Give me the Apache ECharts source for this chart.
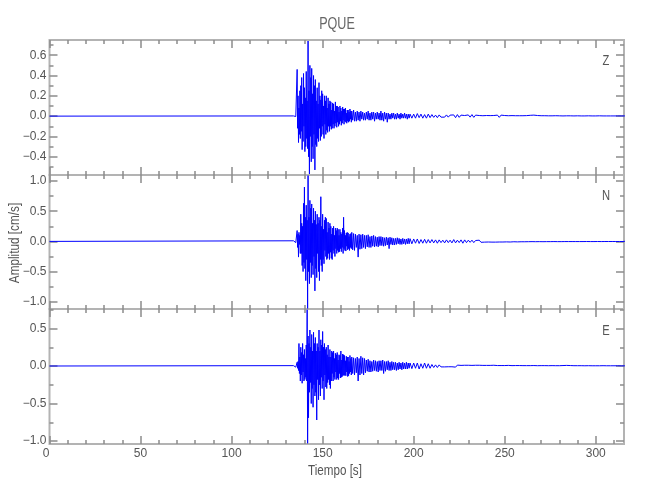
<!DOCTYPE html>
<html><head><meta charset="utf-8">
<script src="https://cdn.jsdelivr.net/npm/echarts@6/dist/echarts.min.js"></script>
<style>html,body{margin:0;padding:0;background:#fff}#c{width:650px;height:500px}</style>
</head><body><div id="c"></div>
<script>
// ---------- data ----------
const stationName = 'PQUE';
const componentNames = ['Z', 'N', 'E'];
const xLabelText = 'Tiempo [s]';
const yLabelText = 'Amplitud [cm/s]';

const xMajorTicks = [0, 50, 100, 150, 200, 250, 300];
const xMinorTicks = [10, 20, 30, 40, 60, 70, 80, 90, 110, 120, 130, 140, 160, 170, 180, 190,
  210, 220, 230, 240, 260, 270, 280, 290, 310];

const zMajorTicks = [0.6, 0.4, 0.2, 0.0, -0.2, -0.4];
const zMinorTicks = [0.7, 0.5, 0.3, 0.1, -0.1, -0.3, -0.5];
const nMajorTicks = [1.0, 0.5, 0.0, -0.5, -1.0];
const nMinorTicks = [0.75, 0.25, -0.25, -0.75];
const eMajorTicks = [0.5, 0.0, -0.5, -1.0];
const eMinorTicks = [0.75, 0.25, -0.25, -0.75];

// sampling of the hand-read traces
const timeStart = 0;      // s, quiet until the onset
const denseStart = 134;   // s, strong motion, every 0.25 s
const denseStep = 0.25;
const midStart = 166;     // s, coda, every 0.5 s
const midStep = 0.5;
const tailStart = 198;    // s, late coda, every 1 s
const tailStep = 1;

// ---- Z ----
const zDense = [
  0.002,-0.003,0.003,-0.002,0.002,-0.004,0.003,-0.002,
  0.46,-0.12,0.20,-0.26,0.08,-0.18,0.25,-0.22,
  0.30,-0.15,0.38,-0.33,0.12,-0.25,0.42,-0.10,
  0.28,-0.35,0.18,-0.30,0.44,-0.22,0.15,-0.32,
  0.74,-0.40,0.25,-0.57,0.50,-0.20,0.38,-0.45,
  0.47,-0.30,0.22,-0.42,0.40,-0.18,0.30,-0.53,
  0.36,-0.28,0.15,-0.30,0.28,-0.22,0.12,-0.25,
  0.33,-0.12,0.20,-0.24,0.16,-0.20,0.25,-0.10,
  0.22,-0.18,0.10,-0.22,0.20,-0.08,0.15,-0.18,
  0.20,-0.14,0.08,-0.16,0.18,-0.10,0.12,-0.15,
  0.15,-0.10,0.14,-0.13,0.06,-0.12,0.13,-0.08,
  0.12,-0.12,0.05,-0.10,0.14,-0.07,0.10,-0.11,
  0.10,-0.06,0.09,-0.10,0.04,-0.08,0.10,-0.05,
  0.08,-0.09,0.05,-0.07,0.09,-0.04,0.07,-0.08,
  0.07,-0.05,0.08,-0.06,0.03,-0.07,0.06,-0.05,
  0.06,-0.06,0.04,-0.05,0.07,-0.03,0.05,-0.06];
const zMid = [
  0.05,-0.04,0.06,-0.05,0.04,-0.05,0.05,-0.04,
  0.04,-0.05,0.05,-0.03,0.04,-0.04,0.03,-0.04,
  0.04,-0.03,0.05,-0.04,0.03,-0.04,0.04,-0.03,
  0.04,-0.05,0.03,-0.03,0.04,-0.03,0.03,-0.04,
  0.05,-0.04,0.03,-0.05,0.04,-0.03,0.03,-0.06,
  0.03,-0.03,0.02,-0.03,0.03,-0.02,0.03,-0.03,
  0.02,-0.03,0.03,-0.02,0.02,-0.03,0.03,-0.02,
  0.02,-0.02,0.03,-0.02,0.02,-0.03,0.02,-0.02];
const zTail = [0.02,-0.02,
  0.02,-0.02,0.025,-0.015,0.02,-0.02,0.015,-0.02,0.02,-0.015,
  0.015,-0.012,0.01,-0.015,0.012,-0.01,0.008,-0.01,0.012,-0.01,
  0.01,-0.008,0.012,-0.015,0.015,-0.012,0.01,-0.008,0.006,-0.008,
  0.012,-0.01,0.015,-0.012,0.01,-0.008,0.006,-0.005,0.004,-0.005,
  0.006,-0.005,0.005,-0.004,0.006,-0.008,0.01,-0.012,0.01,-0.008,
  0.006,-0.005,0.004,-0.004,0.005,-0.004,0.004,-0.005,0.004,-0.003,
  0.004,-0.004,0.005,-0.006,0.008,-0.01,0.01,-0.008,0.006,-0.005,
  0.004,-0.003,0.004,-0.003,0.003,-0.004,0.003,-0.003,0.004,-0.003,
  0.003,-0.003,0.002,-0.003,0.003,-0.002,0.003,-0.002,0.002,-0.003,
  0.003,-0.002,0.002,-0.003,0.002,-0.002,0.003,-0.002,0.002,-0.002,
  0.002,-0.002,0.003,-0.002,0.002,-0.002,0.002,-0.003,0.002,-0.002,
  0.002,-0.002,0.002,-0.002,0.002,-0.001,0.002];

// ---- N ----
const nDense = [
  0.01,-0.02,0.02,-0.01,0.03,-0.02,0.01,-0.02,
  0.18,-0.10,0.12,-0.26,0.15,-0.05,0.10,-0.20,
  0.45,-0.20,0.30,-0.40,0.25,-0.50,0.63,-0.35,
  0.90,-0.45,0.40,-0.65,0.60,-0.30,0.35,-1.11,
  1.09,-0.50,0.40,-0.70,0.68,-0.35,0.55,-0.60,
  0.62,-0.40,0.30,-0.55,0.55,-0.25,0.35,-0.82,
  0.50,-0.45,0.28,-0.60,0.45,-0.20,0.30,-0.50,
  0.40,-0.65,0.35,-0.30,0.74,-0.40,0.25,-0.50,
  0.45,-0.30,0.20,-0.37,0.35,-0.15,0.40,-0.25,
  0.38,-0.30,0.15,-0.28,0.32,-0.20,0.22,-0.30,
  0.30,-0.18,0.25,-0.28,0.12,-0.30,0.22,-0.15,
  0.25,-0.20,0.10,-0.25,0.22,-0.12,0.18,-0.20,
  0.22,-0.15,0.20,-0.18,0.10,-0.17,0.20,-0.12,
  0.15,-0.17,0.12,-0.10,0.22,-0.20,0.40,-0.12,
  0.18,-0.15,0.10,-0.16,0.14,-0.08,0.15,-0.14,
  0.14,-0.12,0.08,-0.15,0.12,-0.10,0.13,-0.12];
const nMid = [
  0.15,-0.14,0.13,-0.15,0.12,-0.10,0.10,-0.26,
  0.12,-0.13,0.11,-0.12,0.12,-0.10,0.10,-0.12,
  0.10,-0.09,0.11,-0.10,0.08,-0.10,0.09,-0.08,
  0.10,-0.09,0.08,-0.08,0.07,-0.09,0.08,-0.07,
  0.08,-0.07,0.07,-0.08,0.06,-0.07,0.07,-0.06,
  0.06,-0.12,0.07,-0.05,0.06,-0.06,0.05,-0.06,
  0.05,-0.05,0.06,-0.04,0.05,-0.05,0.04,-0.05,
  0.05,-0.04,0.04,-0.05,0.04,-0.04,0.05,-0.04];
const nTail = [0.045,-0.04,
  0.04,-0.03,0.04,-0.035,0.03,-0.03,0.035,-0.03,0.03,-0.025,
  0.03,-0.025,0.025,-0.03,0.025,-0.02,0.02,-0.025,0.025,-0.02,
  0.02,-0.025,0.03,-0.025,0.02,-0.02,0.025,-0.03,0.025,-0.02,
  0.02,-0.015,0.02,-0.02,0.015,-0.015,0.02,-0.015,0.015,-0.012,
  0.012,-0.01,0.015,-0.012,0.01,-0.012,0.01,-0.01,0.008,-0.01,
  0.01,-0.008,0.008,-0.01,0.008,-0.006,0.006,-0.008,0.006,-0.006,
  0.005,-0.006,0.006,-0.005,0.005,-0.004,0.005,-0.005,0.004,-0.004,
  0.004,-0.005,0.004,-0.004,0.005,-0.004,0.004,-0.003,0.004,-0.004,
  0.003,-0.004,0.003,-0.003,0.004,-0.003,0.003,-0.003,0.003,-0.003,
  0.003,-0.003,0.002,-0.003,0.003,-0.002,0.003,-0.003,0.002,-0.003,
  0.003,-0.002,0.002,-0.003,0.002,-0.002,0.003,-0.002,0.002,-0.002,
  0.002,-0.002,0.002,-0.002,0.002,-0.002,0.002];

// ---- E ----
const eDense = [
  0.005,-0.008,0.01,-0.01,0.02,-0.015,0.01,-0.02,
  0.05,-0.03,0.06,-0.06,0.30,-0.10,0.12,-0.20,
  0.25,-0.12,0.18,-0.23,0.30,-0.08,0.15,-0.20,
  0.22,-0.18,0.10,-0.15,0.28,-0.20,0.75,-1.03,
  0.40,-0.69,0.30,-0.35,0.48,-0.22,0.25,-0.50,
  0.42,-0.30,0.20,-0.55,0.45,-0.25,0.30,-0.40,
  0.38,-0.35,0.20,-0.72,0.30,-0.18,0.25,-0.45,
  0.48,-0.25,0.20,-0.40,0.35,-0.15,0.28,-0.30,
  0.46,-0.20,0.25,-0.45,0.30,-0.12,0.22,-0.28,
  0.25,-0.30,0.15,-0.22,0.28,-0.18,0.12,-0.25,
  0.22,-0.30,0.12,-0.20,0.20,-0.10,0.18,-0.20,
  0.20,-0.15,0.10,-0.18,0.17,-0.08,0.15,-0.18,
  0.18,-0.16,0.08,-0.18,0.15,-0.10,0.14,-0.16,
  0.20,-0.15,0.08,-0.14,0.16,-0.12,0.15,-0.13,
  0.14,-0.12,0.07,-0.13,0.13,-0.08,0.12,-0.14,
  0.12,-0.13,0.06,-0.10,0.14,-0.08,0.10,-0.12];
const eMid = [
  0.12,-0.10,0.11,-0.12,0.10,-0.09,0.12,-0.20,
  0.10,-0.12,0.13,-0.10,0.11,-0.12,0.10,-0.09,
  0.08,-0.07,0.09,-0.08,0.07,-0.08,0.06,-0.07,
  0.08,-0.06,0.07,-0.07,0.06,-0.08,0.07,-0.06,
  0.07,-0.06,0.08,-0.10,0.06,-0.07,0.06,-0.05,
  0.07,-0.06,0.05,-0.06,0.06,-0.05,0.05,-0.05,
  0.05,-0.06,0.04,-0.05,0.05,-0.04,0.04,-0.05,
  0.05,-0.04,0.04,-0.04,0.05,-0.04,0.04,-0.03];
const eTail = [0.04,-0.035,
  0.04,-0.03,0.04,-0.04,0.03,-0.03,0.04,-0.03,0.03,-0.03,
  0.02,-0.02,0.015,-0.02,0.015,-0.012,0.01,-0.012,0.01,-0.01,
  0.012,-0.01,0.01,-0.015,0.012,-0.01,0.008,-0.01,0.01,-0.008,
  0.01,-0.012,0.008,-0.01,0.01,-0.008,0.01,-0.012,0.008,-0.008,
  0.008,-0.006,0.008,-0.01,0.01,-0.008,0.006,-0.008,0.006,-0.005,
  0.006,-0.008,0.008,-0.006,0.005,-0.006,0.006,-0.005,0.006,-0.005,
  0.005,-0.006,0.005,-0.004,0.005,-0.005,0.006,-0.005,0.004,-0.005,
  0.005,-0.004,0.005,-0.005,0.004,-0.004,0.005,-0.004,0.004,-0.004,
  0.004,-0.005,0.006,-0.006,0.008,-0.008,0.006,-0.005,0.004,-0.004,
  0.004,-0.003,0.004,-0.004,0.003,-0.004,0.004,-0.003,0.003,-0.003,
  0.003,-0.004,0.003,-0.003,0.004,-0.003,0.003,-0.003,0.003,-0.003,
  0.003,-0.002,0.003,-0.003,0.002,-0.002,0.002];

// ---------- build ----------
function trace(dense, mid, tail) {
  const pts = [[timeStart, 0]];
  dense.forEach((v, i) => pts.push([denseStart + i * denseStep, v]));
  mid.forEach((v, i) => pts.push([midStart + i * midStep, v]));
  tail.forEach((v, i) => pts.push([tailStart + i * tailStep, v]));
  return pts;
}

const FONT = '"Liberation Sans",Arial,sans-serif';
const AXIS_GRAY = '#b3b3b3';
const TICK_COLOR = '#8c8c8c';
const LABEL_COLOR = '#555';
const X_MIN = 0, X_MAX = 315.5;
const PLOT_LEFT = 49.5, PLOT_WIDTH = 574.5;

const panels = [
  { dense: zDense, mid: zMid, tail: zTail, min: -0.58, max: 0.75, major: zMajorTicks, minor: zMinorTicks, top: 40, height: 135 },
  { dense: nDense, mid: nMid, tail: nTail, min: -1.12, max: 1.10, major: nMajorTicks, minor: nMinorTicks, top: 175, height: 134 },
  { dense: eDense, mid: eMid, tail: eTail, min: -1.04, max: 0.76, major: eMajorTicks, minor: eMinorTicks, top: 309, height: 135 }
];

function fmtY(v) {
  const s = Math.abs(v).toFixed(1);
  return v < -1e-9 ? '\u2212' + s : s;
}

const grids = [], xAxes = [], yAxes = [], series = [];
const tickStyle = { color: TICK_COLOR, width: 1.5 };

panels.forEach((p, i) => {
  // grid A: border + major ticks; grid B (same box): minor ticks
  for (let k = 0; k < 2; k++) {
    const gi = grids.length;
    grids.push({
      left: PLOT_LEFT, width: PLOT_WIDTH, top: p.top, height: p.height,
      show: k === 0, borderColor: AXIS_GRAY, borderWidth: 2, backgroundColor: 'transparent'
    });
    const isMajor = k === 0;
    const xt = isMajor ? xMajorTicks : xMinorTicks;
    const yt = isMajor ? p.major : p.minor;
    const len = isMajor ? 8 : 4;
    ['bottom', 'top'].forEach(pos => {
      xAxes.push({
        gridIndex: gi, type: 'value', min: X_MIN, max: X_MAX, position: pos,
        axisLine: { show: false, onZero: false }, splitLine: { show: false },
        axisTick: { show: true, inside: true, length: len, customValues: xt, lineStyle: tickStyle },
        axisLabel: {
          show: isMajor && pos === 'bottom' && i === 2, customValues: xt,
          color: LABEL_COLOR, fontFamily: FONT, fontSize: 12, margin: 4,
          alignMinLabel: 'right', formatter: v => String(Math.round(v))
        }
      });
    });
    ['left', 'right'].forEach(pos => {
      yAxes.push({
        gridIndex: gi, type: 'value', min: p.min, max: p.max, position: pos,
        axisLine: { show: false, onZero: false }, splitLine: { show: false },
        axisTick: { show: true, inside: true, length: len, customValues: yt, lineStyle: tickStyle },
        axisLabel: {
          show: isMajor && pos === 'left', customValues: yt,
          color: LABEL_COLOR, fontFamily: FONT, fontSize: 12, margin: 3,
          formatter: fmtY
        }
      });
    });
    if (isMajor) {
      series.push({
        type: 'line', xAxisIndex: xAxes.length - 2, yAxisIndex: yAxes.length - 2,
        data: trace(p.dense, p.mid, p.tail), showSymbol: false, symbol: 'none',
        lineStyle: { color: '#0000ff', width: 1 }, clip: true, silent: true
      });
    }
  }
});

function txt(x, y, text, size, sx, rot, fill) {
  return { type: 'text', x: x, y: y, rotation: rot || 0, scaleX: sx, scaleY: 1,
    style: { text: text, font: size + 'px ' + FONT, fill: fill || LABEL_COLOR, align: 'center', verticalAlign: 'middle' } };
}

const graphic = [
  txt(337, 24, stationName, 17, 0.74, 0, '#666'),
  txt(606, 61, componentNames[0], 14, 0.8),
  txt(606, 196, componentNames[1], 14, 0.8),
  txt(606, 331, componentNames[2], 14, 0.8),
  txt(335, 471, xLabelText, 14, 0.83),
  txt(15, 243, yLabelText, 14, 0.84, Math.PI / 2)
];

const chart = echarts.init(document.getElementById('c'), null, { renderer: 'canvas' });
chart.setOption({
  animation: false,
  backgroundColor: '#fff',
  grid: grids, xAxis: xAxes, yAxis: yAxes, series: series, graphic: graphic
});
</script>
</body></html>
